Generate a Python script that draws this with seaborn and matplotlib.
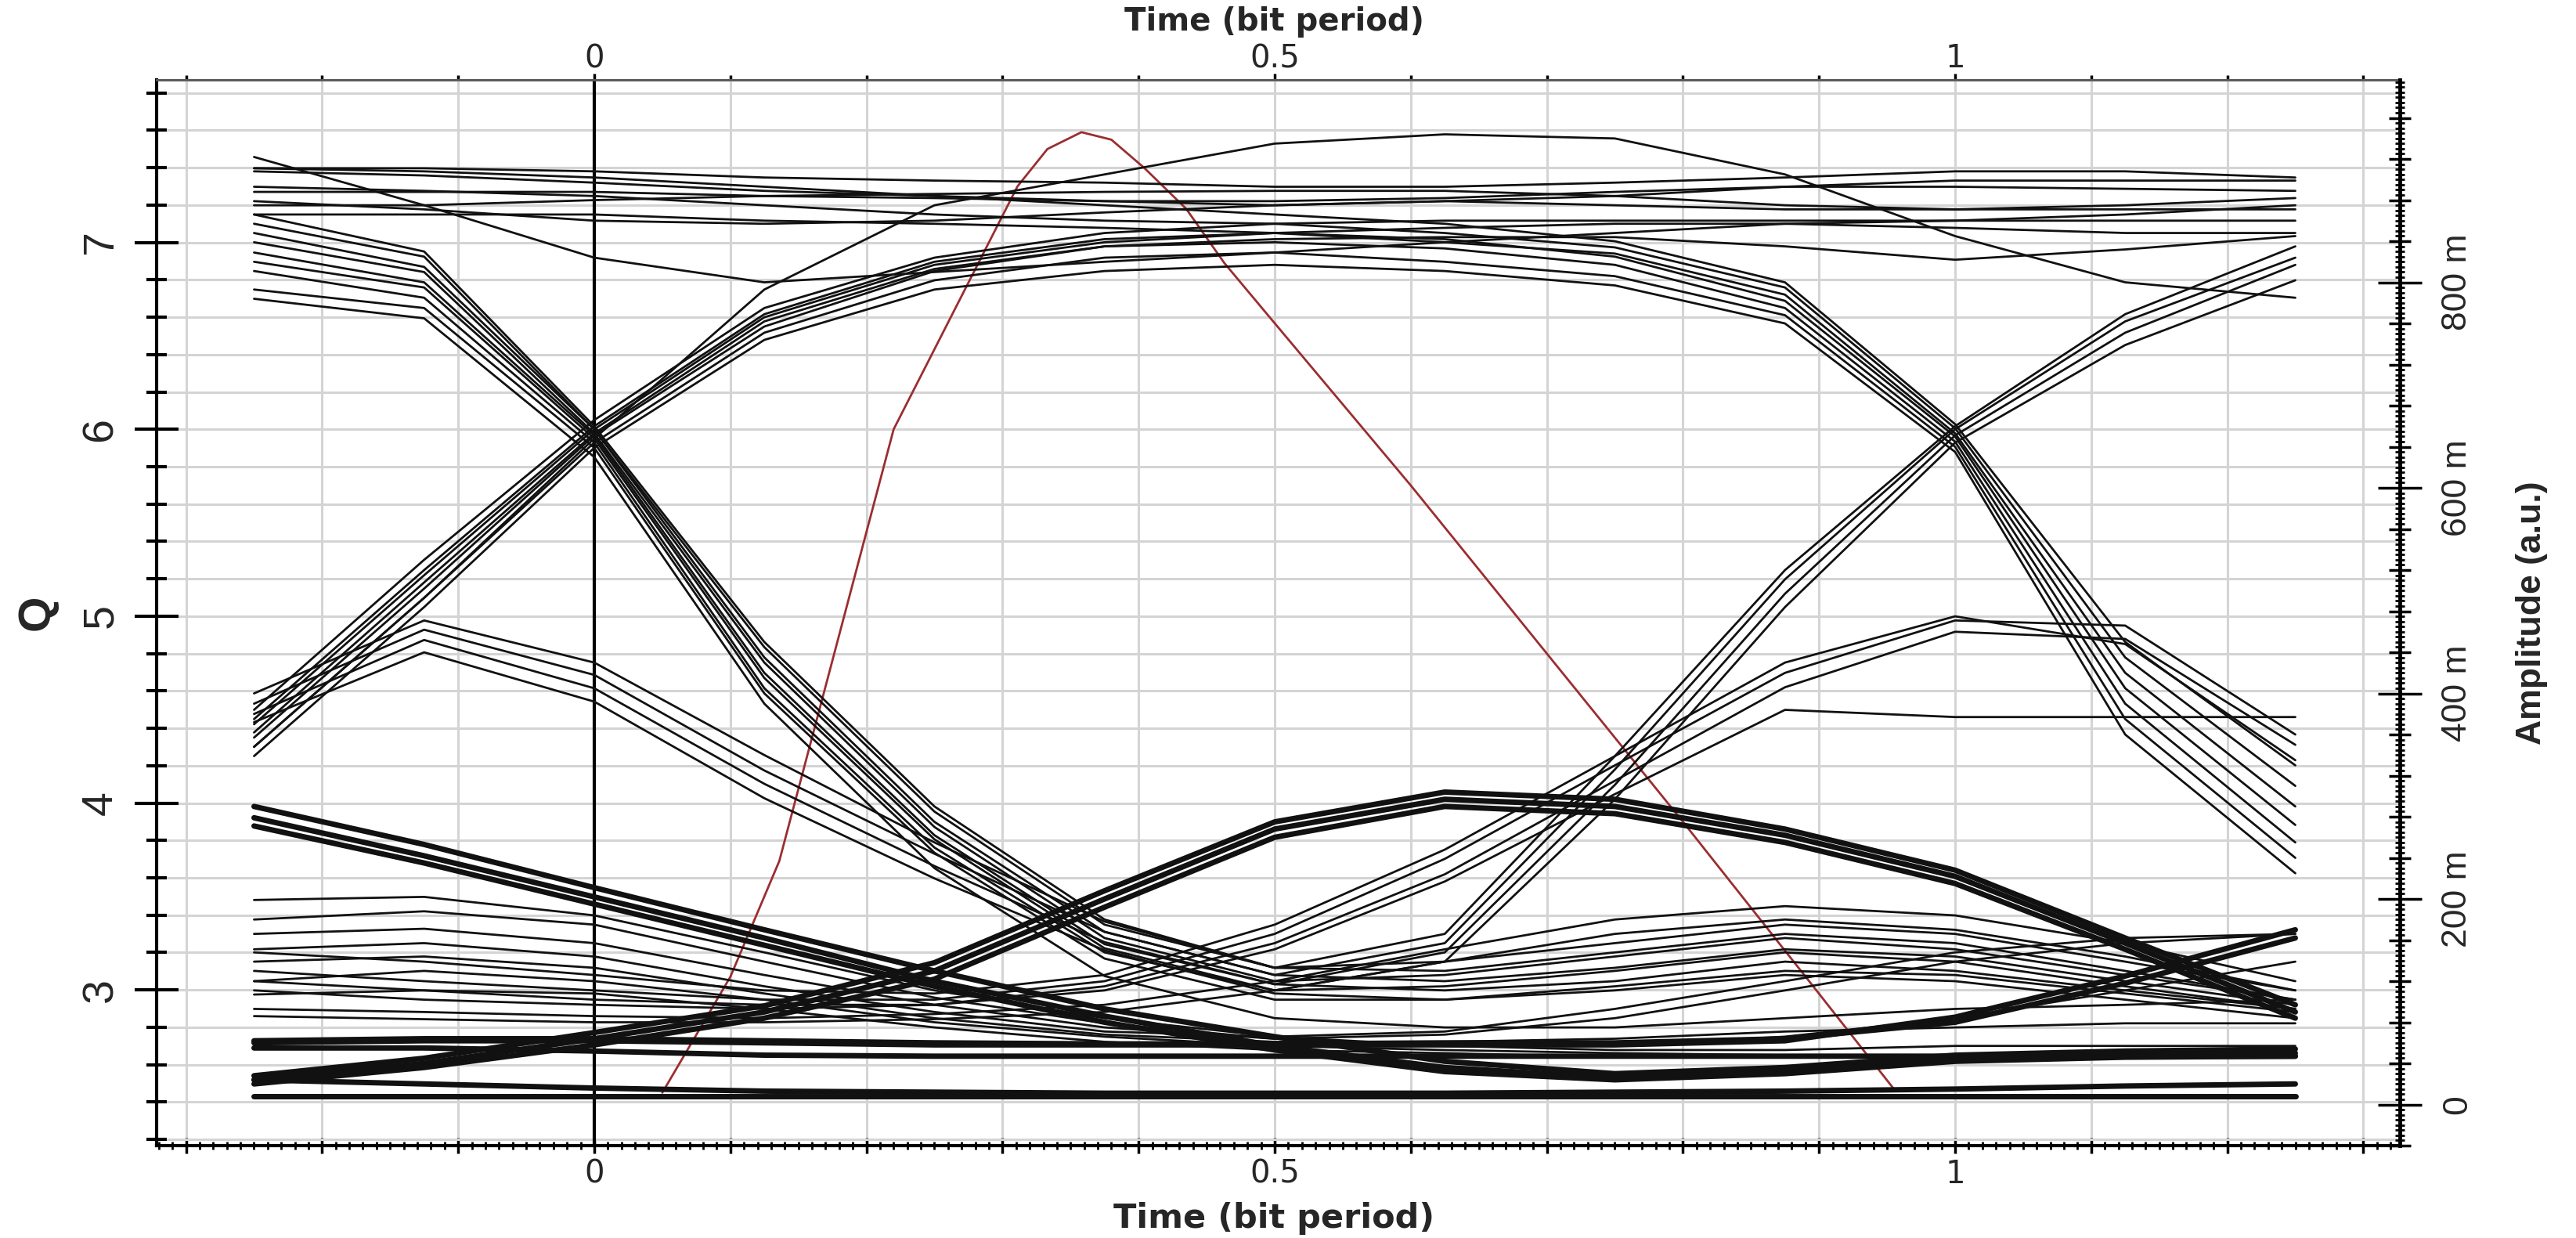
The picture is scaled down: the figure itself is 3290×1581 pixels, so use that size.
import numpy as np
import pandas as pd
import matplotlib
matplotlib.use("Agg")
import matplotlib.pyplot as plt
import seaborn as sns
from matplotlib.ticker import MultipleLocator, FixedLocator, FuncFormatter, NullLocator
from matplotlib import font_manager

sns.set_theme(style="white")
plt.rcParams["font.family"] = ["DejaVu Sans"]
_names = {f.name for f in font_manager.fontManager.ttflist}
NARROW = "Liberation Sans Narrow" if "Liberation Sans Narrow" in _names else "Liberation Sans"

# ---------------- data ----------------
time_bits = [-0.25, -0.125, 0.0, 0.125, 0.25, 0.375, 0.5, 0.625, 0.75, 0.875, 1.0, 1.125, 1.25]

# eye traces, amplitude (a.u.)
T1 = [0.922, 0.875, 0.824, 0.800, 0.810, 0.820, 0.829, 0.839, 0.848, 0.857, 0.860, 0.860, 0.860]
T2 = [0.911, 0.911, 0.908, 0.902, 0.899, 0.897, 0.893, 0.893, 0.897, 0.902, 0.908, 0.908, 0.902]
T3 = [0.908, 0.904, 0.897, 0.889, 0.884, 0.879, 0.875, 0.879, 0.884, 0.893, 0.899, 0.899, 0.899]
T4 = [0.888, 0.888, 0.888, 0.884, 0.882, 0.879, 0.879, 0.882, 0.888, 0.893, 0.893, 0.891, 0.889]
T5 = [0.875, 0.875, 0.880, 0.884, 0.886, 0.888, 0.889, 0.889, 0.884, 0.875, 0.871, 0.871, 0.871]
T6 = [0.879, 0.871, 0.860, 0.857, 0.860, 0.868, 0.875, 0.879, 0.875, 0.871, 0.871, 0.875, 0.882]
R1 = [0.384, 0.530, 0.666, 0.775, 0.824, 0.848, 0.857, 0.860, 0.860, 0.860, 0.860, 0.866, 0.875]
R2 = [0.370, 0.515, 0.657, 0.766, 0.817, 0.839, 0.848, 0.853, 0.857, 0.857, 0.853, 0.848, 0.848]
R3 = [0.357, 0.502, 0.651, 0.757, 0.811, 0.835, 0.842, 0.844, 0.844, 0.835, 0.822, 0.832, 0.845]
ARC = [0.348, 0.493, 0.648, 0.793, 0.875, 0.905, 0.935, 0.944, 0.940, 0.905, 0.845, 0.800, 0.785]
RF1 = [0.375, 0.520, 0.660, 0.769, 0.820, 0.842, 0.848, 0.842, 0.825, 0.782, 0.650, 0.405, 0.272]
RF2 = [0.362, 0.508, 0.653, 0.762, 0.813, 0.835, 0.839, 0.833, 0.817, 0.775, 0.645, 0.390, 0.255]
RF3 = [0.348, 0.493, 0.644, 0.751, 0.802, 0.824, 0.829, 0.820, 0.806, 0.768, 0.640, 0.375, 0.240]
RF4 = [0.339, 0.484, 0.639, 0.744, 0.793, 0.811, 0.817, 0.811, 0.797, 0.760, 0.635, 0.360, 0.225]
HF1 = [0.911, 0.908, 0.902, 0.893, 0.884, 0.875, 0.866, 0.857, 0.840, 0.800, 0.662, 0.450, 0.330]
HF2 = [0.893, 0.889, 0.884, 0.875, 0.866, 0.860, 0.857, 0.848, 0.834, 0.795, 0.658, 0.435, 0.310]
HF3 = [0.866, 0.866, 0.866, 0.860, 0.857, 0.853, 0.848, 0.839, 0.828, 0.788, 0.653, 0.420, 0.290]
FR1 = [0.866, 0.830, 0.660, 0.450, 0.290, 0.180, 0.133, 0.166, 0.339, 0.520, 0.660, 0.769, 0.835]
FR2 = [0.848, 0.815, 0.657, 0.435, 0.275, 0.168, 0.126, 0.157, 0.326, 0.511, 0.657, 0.762, 0.824]
FR3 = [0.829, 0.800, 0.651, 0.420, 0.262, 0.156, 0.117, 0.148, 0.311, 0.497, 0.651, 0.751, 0.817]
FR4 = [0.811, 0.785, 0.644, 0.405, 0.250, 0.148, 0.111, 0.139, 0.297, 0.484, 0.644, 0.739, 0.802]
FL1 = [0.857, 0.825, 0.657, 0.445, 0.285, 0.175, 0.133, 0.139, 0.157, 0.175, 0.166, 0.139, 0.111]
FL2 = [0.839, 0.810, 0.653, 0.430, 0.270, 0.162, 0.120, 0.126, 0.144, 0.162, 0.151, 0.126, 0.102]
FL3 = [0.820, 0.795, 0.648, 0.415, 0.258, 0.152, 0.111, 0.115, 0.130, 0.148, 0.139, 0.115, 0.093]
FL4 = [0.793, 0.775, 0.639, 0.400, 0.245, 0.142, 0.102, 0.102, 0.115, 0.130, 0.126, 0.108, 0.090]
FL5 = [0.784, 0.765, 0.630, 0.390, 0.230, 0.125, 0.084, 0.075, 0.075, 0.084, 0.093, 0.097, 0.102]
H1 = [0.400, 0.471, 0.430, 0.340, 0.255, 0.178, 0.133, 0.130, 0.148, 0.166, 0.157, 0.130, 0.102]
H2 = [0.390, 0.462, 0.418, 0.325, 0.244, 0.168, 0.126, 0.120, 0.133, 0.151, 0.144, 0.120, 0.097]
H3 = [0.380, 0.452, 0.405, 0.312, 0.232, 0.158, 0.117, 0.111, 0.120, 0.139, 0.130, 0.111, 0.093]
H4 = [0.372, 0.440, 0.392, 0.298, 0.220, 0.150, 0.108, 0.102, 0.111, 0.126, 0.120, 0.102, 0.084]
RH1 = [0.130, 0.120, 0.111, 0.102, 0.102, 0.120, 0.166, 0.239, 0.330, 0.420, 0.471, 0.466, 0.360]
RH2 = [0.120, 0.111, 0.102, 0.097, 0.097, 0.115, 0.157, 0.224, 0.315, 0.406, 0.460, 0.453, 0.350]
RH3 = [0.148, 0.139, 0.126, 0.111, 0.108, 0.126, 0.175, 0.248, 0.339, 0.430, 0.475, 0.448, 0.335]
RH4 = [0.111, 0.102, 0.097, 0.093, 0.097, 0.111, 0.151, 0.217, 0.302, 0.384, 0.377, 0.377, 0.377]
M1 = [0.199, 0.202, 0.184, 0.148, 0.111, 0.084, 0.066, 0.057, 0.053, 0.053, 0.057, 0.057, 0.057]
M2 = [0.180, 0.188, 0.175, 0.139, 0.104, 0.079, 0.064, 0.057, 0.057, 0.066, 0.084, 0.111, 0.139]
M3 = [0.166, 0.171, 0.157, 0.126, 0.097, 0.075, 0.064, 0.068, 0.084, 0.111, 0.139, 0.157, 0.166]
M4 = [0.151, 0.157, 0.144, 0.115, 0.090, 0.071, 0.066, 0.071, 0.093, 0.120, 0.148, 0.162, 0.166]
M5 = [0.139, 0.144, 0.133, 0.108, 0.084, 0.068, 0.061, 0.061, 0.064, 0.071, 0.075, 0.079, 0.079]
M6 = [0.120, 0.130, 0.120, 0.102, 0.080, 0.066, 0.057, 0.053, 0.050, 0.048, 0.046, 0.046, 0.046]
M7 = [0.107, 0.111, 0.108, 0.093, 0.075, 0.061, 0.053, 0.050, 0.046, 0.046, 0.046, 0.046, 0.046]
N1 = [0.093, 0.090, 0.086, 0.084, 0.088, 0.097, 0.120, 0.151, 0.180, 0.193, 0.184, 0.157, 0.120]
N2 = [0.086, 0.083, 0.080, 0.080, 0.083, 0.090, 0.111, 0.139, 0.166, 0.180, 0.170, 0.144, 0.111]
# thick (overlapping) traces
D1 = [0.290, 0.253, 0.211, 0.170, 0.130, 0.093, 0.066, 0.042, 0.030, 0.036, 0.048, 0.052, 0.054]
D2 = [0.279, 0.242, 0.202, 0.162, 0.120, 0.086, 0.057, 0.036, 0.026, 0.032, 0.044, 0.049, 0.050]
D3 = [0.271, 0.235, 0.195, 0.155, 0.115, 0.080, 0.053, 0.032, 0.024, 0.030, 0.042, 0.046, 0.047]
E1 = [0.024, 0.040, 0.064, 0.090, 0.130, 0.200, 0.268, 0.297, 0.290, 0.262, 0.222, 0.157, 0.090]
E2 = [0.020, 0.036, 0.058, 0.084, 0.122, 0.192, 0.260, 0.290, 0.283, 0.255, 0.215, 0.151, 0.084]
E3 = [0.028, 0.045, 0.070, 0.096, 0.138, 0.208, 0.275, 0.304, 0.297, 0.268, 0.228, 0.162, 0.097]
L1 = [0.008, 0.008, 0.008, 0.008, 0.008, 0.008, 0.008, 0.008, 0.008, 0.008, 0.008, 0.008, 0.008]
L2 = [0.060, 0.062, 0.062, 0.060, 0.058, 0.058, 0.058, 0.058, 0.058, 0.062, 0.085, 0.125, 0.170]
L2b = [0.062, 0.064, 0.064, 0.062, 0.060, 0.059, 0.059, 0.060, 0.060, 0.064, 0.080, 0.118, 0.162]
L3 = [0.055, 0.055, 0.052, 0.048, 0.047, 0.047, 0.047, 0.047, 0.047, 0.047, 0.047, 0.047, 0.047]
L4 = [0.024, 0.020, 0.016, 0.013, 0.012, 0.011, 0.011, 0.011, 0.012, 0.013, 0.015, 0.018, 0.020]

thin_traces = {
    "T1": T1, "T2": T2, "T3": T3, "T4": T4, "T5": T5, "T6": T6,
    "R1": R1, "R2": R2, "R3": R3, "ARC": ARC,
    "RF1": RF1, "RF2": RF2, "RF3": RF3, "RF4": RF4,
    "HF1": HF1, "HF2": HF2, "HF3": HF3,
    "FR1": FR1, "FR2": FR2, "FR3": FR3, "FR4": FR4,
    "FL1": FL1, "FL2": FL2, "FL3": FL3, "FL4": FL4, "FL5": FL5,
    "H1": H1, "H2": H2, "H3": H3, "H4": H4,
    "RH1": RH1, "RH2": RH2, "RH3": RH3, "RH4": RH4,
    "M1": M1, "M2": M2, "M3": M3, "M4": M4, "M5": M5, "M6": M6, "M7": M7,
    "N1": N1, "N2": N2,
}
thick_traces = {"D1": D1, "D2": D2, "D3": D3, "E1": E1, "E2": E2, "E3": E3,
                "L1": L1, "L2": L2, "L2b": L2b, "L3": L3, "L4": L4}

# Q factor curve (left axis)
q_time = [0.05, 0.10, 0.136, 0.22, 0.29, 0.311, 0.333, 0.358, 0.38, 0.404, 0.435, 0.463, 0.494,
          0.60, 0.70, 0.80, 0.90, 0.955]
q_value = [2.45, 3.07, 3.69, 6.00, 7.00, 7.30, 7.50, 7.59, 7.55, 7.40, 7.18, 6.89, 6.62,
           5.70, 4.80, 3.90, 2.98, 2.47]

x_ticks_labeled = [0.0, 0.5, 1.0]
x_tick_text = ["0", "0.5", "1"]
q_ticks = [3, 4, 5, 6, 7]
amp_ticks = [0.0, 0.2, 0.4, 0.6, 0.8]
amp_tick_labels = ["0", "200 m", "400 m", "600 m", "800 m"]


def long_form(traces):
    rows = []
    for name, vals in traces.items():
        for t, a in zip(time_bits, vals):
            rows.append((name, t, a))
    return pd.DataFrame(rows, columns=["trace", "time", "amp"])


df_thin = long_form(thin_traces)
df_thick = long_form(thick_traces)
df_q = pd.DataFrame({"time": q_time, "Q": q_value})

# ---------------- figure ----------------
W, H = 3290, 1581
fig = plt.figure(figsize=(W / 100, H / 100), dpi=100)
fig.patch.set_facecolor("white")
L, R, B, T = 200, 3065, 1463, 102
ax = fig.add_axes([L / W, 1 - B / H, (R - L) / W, (B - T) / H])
ax.set_facecolor("white")
XLIM = (-0.3216, 1.3268)
QLIM = (2.167, 7.87)
ALIM = (-0.040, 0.997)

ax2 = ax.twinx()
ax3 = ax.twinx()

GRID = "#d4d4d4"
ax.set_axisbelow(True)
ax.xaxis.set_major_locator(MultipleLocator(0.1))
ax.xaxis.set_minor_locator(MultipleLocator(0.01))
ax.yaxis.set_major_locator(FixedLocator(q_ticks))
ax.yaxis.set_minor_locator(MultipleLocator(0.2))
ax.grid(which="major", axis="x", color=GRID, lw=2.2)
ax.grid(which="both", axis="y", color=GRID, lw=2.2)

ax.axvline(0, color="black", lw=3.0, zorder=2)

# eye traces on amplitude axis
sns.lineplot(data=df_thin, x="time", y="amp", units="trace", estimator=None, sort=False,
             color="#111111", linewidth=2.0, ax=ax2, legend=False)
sns.lineplot(data=df_thick, x="time", y="amp", units="trace", estimator=None, sort=False,
             color="#111111", linewidth=5.0, ax=ax2, legend=False)
# Q-factor curve
sns.lineplot(data=df_q, x="time", y="Q", sort=False, color="#9b2d30", linewidth=2.0, ax=ax)

ax.set_xlim(*XLIM)
ax.set_ylim(*QLIM)
ax2.set_ylim(*ALIM)
ax3.set_ylim(*ALIM)

# spines
for s in ["left", "bottom"]:
    ax.spines[s].set_color("black")
    ax.spines[s].set_linewidth(3)
ax.spines["top"].set_color("#5a5a5a")
ax.spines["top"].set_linewidth(2)
ax.spines["right"].set_visible(False)
for s in ["left", "top", "bottom"]:
    ax2.spines[s].set_visible(False)
    ax3.spines[s].set_visible(False)
ax2.spines["right"].set_color("black")
ax2.spines["right"].set_linewidth(3.5)
ax3.spines["right"].set_visible(False)

# bottom x ticks
def xfmt(v, pos):
    for t, s in zip(x_ticks_labeled, x_tick_text):
        if abs(v - t) < 1e-6:
            return s
    return ""
ax.xaxis.set_major_formatter(FuncFormatter(xfmt))
ax.tick_params(axis="x", which="major", direction="inout", length=14, width=2.5,
               color="black", labelsize=29, pad=5, bottom=True, top=False)
ax.tick_params(axis="x", which="minor", direction="inout", length=7, width=2,
               color="black", bottom=True, top=False)

# left y ticks
ax.set_yticks(q_ticks)
ax.set_yticklabels([str(q) for q in q_ticks], rotation=90, va="center",
                   fontfamily=NARROW, fontsize=40)
ax.tick_params(axis="y", which="major", direction="inout", length=41, width=3,
               color="black", pad=12, left=True, right=False)
ax.tick_params(axis="y", which="minor", direction="inout", length=19, width=3,
               color="black", left=True, right=False)

# right amplitude ticks
ax2.yaxis.set_major_locator(FixedLocator(amp_ticks))
ax2.set_yticklabels(amp_tick_labels, rotation=90, va="center", fontfamily=NARROW, fontsize=32)
ax2.yaxis.set_minor_locator(MultipleLocator(0.04))
ax2.tick_params(axis="y", which="major", direction="inout", length=41, width=2.5,
                color="black", pad=18)
ax2.tick_params(axis="y", which="minor", direction="inout", length=20, width=2.5, color="black")
ax3.yaxis.set_major_locator(NullLocator())
ax3.yaxis.set_minor_locator(MultipleLocator(0.005))
ax3.tick_params(axis="y", which="minor", direction="inout", length=9, width=2,
                color="black", right=True, left=False)
ax3.tick_params(axis="y", which="major", right=False, left=False, labelright=False)
ax3.set_ylabel("")
ax2.set_ylabel("Amplitude (a.u.)", fontsize=32, fontweight="bold", fontfamily=NARROW)
ax2.yaxis.set_label_coords(1.0517, 0.5)

ax.set_ylabel("Q", fontsize=42, fontweight="bold", fontfamily=NARROW)
ax.yaxis.set_label_coords(-0.0436, 0.5)

# bottom title
ax.set_xlabel("Time (bit period)", fontsize=31, fontweight="bold")
ax.xaxis.label.set_verticalalignment("baseline")
ax.xaxis.set_label_coords((1627 - L) / (R - L), (B - 1568) / (B - T))

# top axis
secax = ax.secondary_xaxis("top")
secax.xaxis.set_major_locator(FixedLocator(x_ticks_labeled))
secax.set_xticklabels(x_tick_text)
secax.xaxis.set_minor_locator(MultipleLocator(0.1))
secax.tick_params(which="major", direction="out", length=6, width=2.5, color="black",
                  labelsize=29, pad=-1)
secax.tick_params(which="minor", direction="out", length=4, width=2.5, color="black")
secax.spines["top"].set_color("#5a5a5a")
secax.spines["top"].set_linewidth(2)
fig.text(1627 / W, 1 - 38.5 / H, "Time (bit period)", ha="center", va="baseline",
         fontsize=29, fontweight="bold")

fig.savefig("out.png", dpi=100, facecolor="white")
